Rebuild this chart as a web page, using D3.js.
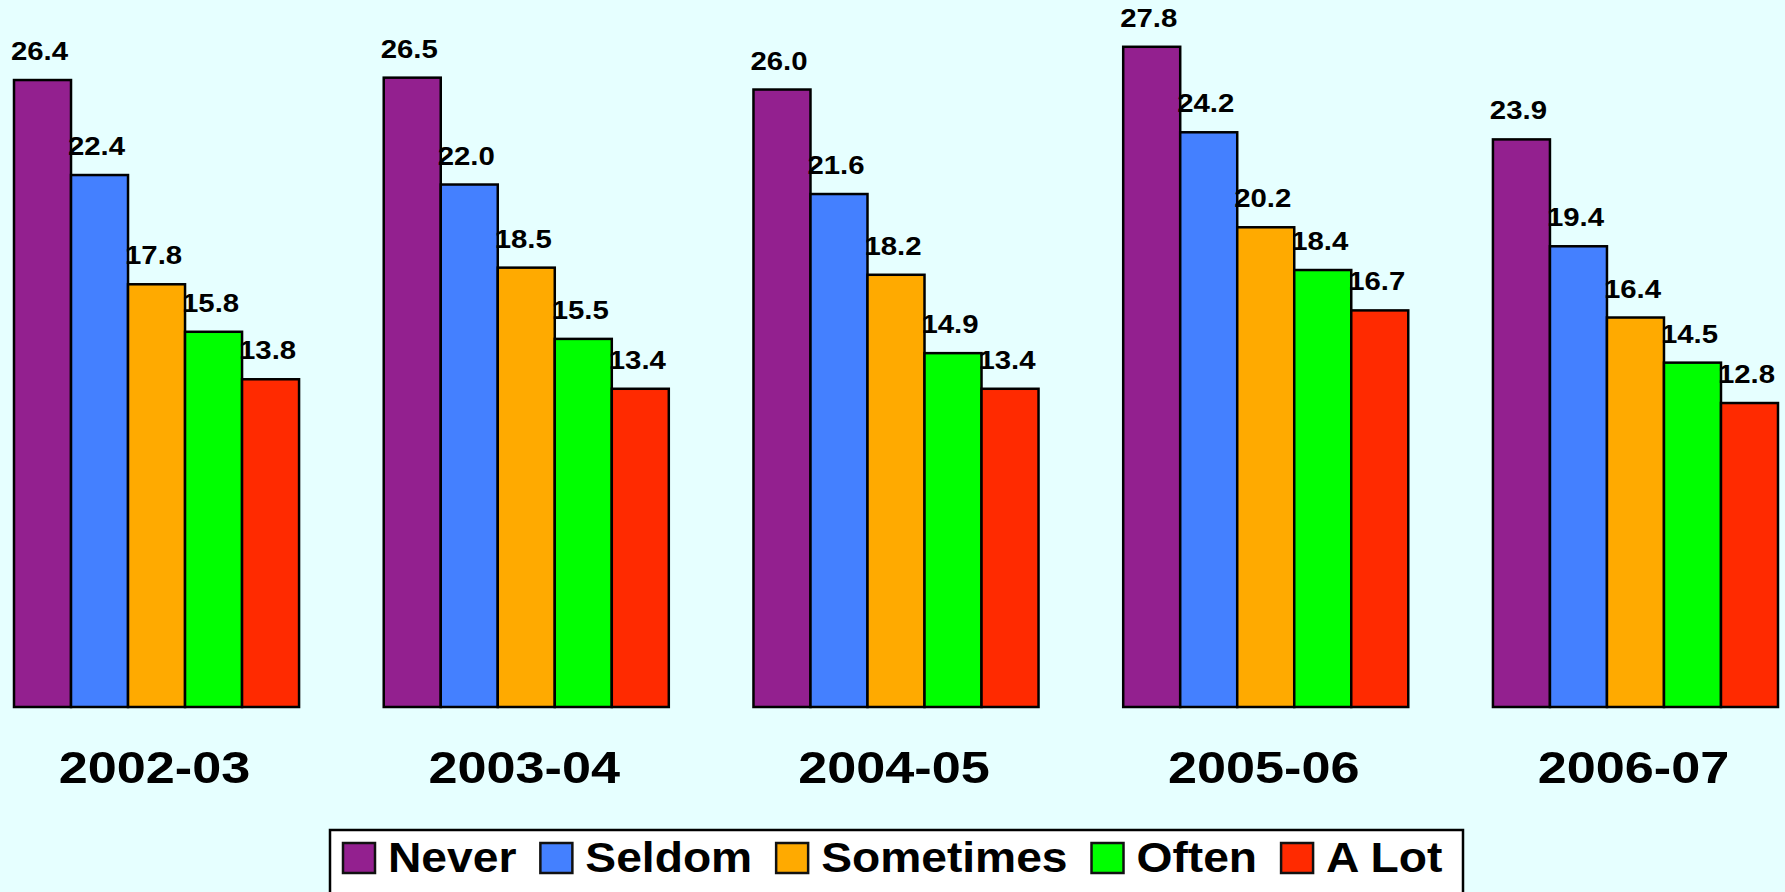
<!DOCTYPE html>
<html>
<head>
<meta charset="utf-8">
<script src="https://cdn.jsdelivr.net/npm/d3@7"></script>
<style>
  html, body { margin: 0; padding: 0; background: #E6FFFF; }
  svg { display: block; }
  text { font-family: "Liberation Sans", Arial, sans-serif; font-weight: bold; fill: #000; }
</style>
</head>
<body>
<svg id="chart" width="1785" height="892"></svg>
<script>
// School years shown as groups
const years = ["2002-03", "2003-04", "2004-05", "2005-06", "2006-07"];
// Response categories (one bar per category within each year)
const responses = ["Never", "Seldom", "Sometimes", "Often", "A Lot"];
const colors = ["#93208F", "#4480FF", "#FFAA00", "#00FF00", "#FF2A00"];

// Percent values per response, in year order
const never     = [26.4, 26.5, 26.0, 27.8, 23.9];
const seldom    = [22.4, 22.0, 21.6, 24.2, 19.4];
const sometimes = [17.8, 18.5, 18.2, 20.2, 16.4];
const often     = [15.8, 15.5, 14.9, 18.4, 14.5];
const aLot      = [13.8, 13.4, 13.4, 16.7, 12.8];

const seriesValues = [never, seldom, sometimes, often, aLot];

const table = years.map((yr, i) => ({
  year: yr,
  values: responses.map((r, j) => ({ key: r, value: seriesValues[j][i], color: colors[j] }))
}));

const svg = d3.select("#chart");
const W = 1785, H = 892;
svg.append("rect").attr("width", W).attr("height", H).attr("fill", "#E6FFFF");

const baseY = 707;
const x0 = d3.scaleBand().domain(years).range([14, 1778]).paddingInner(0.229).paddingOuter(0);
const x1 = d3.scaleBand().domain(responses).range([0, x0.bandwidth()]).padding(0);
const y = d3.scaleLinear().domain([0, 29.77]).range([baseY, 0]);

const groups = svg.selectAll("g.year")
  .data(table)
  .join("g")
  .attr("class", "year")
  .attr("transform", d => `translate(${x0(d.year)},0)`);

groups.selectAll("rect")
  .data(d => d.values)
  .join("rect")
  .attr("x", d => x1(d.key))
  .attr("y", d => y(d.value))
  .attr("width", x1.bandwidth())
  .attr("height", d => baseY - y(d.value))
  .attr("fill", d => d.color)
  .attr("stroke", "#000")
  .attr("stroke-width", 2.5);

// value labels above each bar
groups.selectAll("text.val")
  .data(d => d.values)
  .join("text")
  .attr("class", "val")
  .attr("text-anchor", "middle")
  .attr("font-size", 26)
  .attr("transform", d => `translate(${x1(d.key) + x1.bandwidth() / 2 - 3},${y(d.value) - 20}) scale(1.13,1)`)
  .text(d => d.value.toFixed(1));

// year labels under each group
groups.append("text")
  .attr("text-anchor", "middle")
  .attr("font-size", 45)
  .attr("transform", `translate(${x0.bandwidth() / 2 - 2},783) scale(1.16,1)`)
  .text(d => d.year);

// legend
const legend = svg.append("g");
legend.append("rect")
  .attr("x", 330).attr("y", 830)
  .attr("width", 1133).attr("height", 80)
  .attr("fill", "#FFFFFF")
  .attr("stroke", "#000")
  .attr("stroke-width", 2.5);

const sx = 1.1;
let lx = 343;
responses.forEach((r, j) => {
  legend.append("rect")
    .attr("x", lx).attr("y", 843)
    .attr("width", 32).attr("height", 30)
    .attr("fill", colors[j])
    .attr("stroke", "#111")
    .attr("stroke-width", 2.5);
  const t = legend.append("text")
    .attr("font-size", 42)
    .attr("transform", `translate(${lx + 45},872) scale(${sx},1)`)
    .text(r);
  const w = t.node().getComputedTextLength() * sx;
  lx = lx + 45 + w + 24;
});
</script>
</body>
</html>
